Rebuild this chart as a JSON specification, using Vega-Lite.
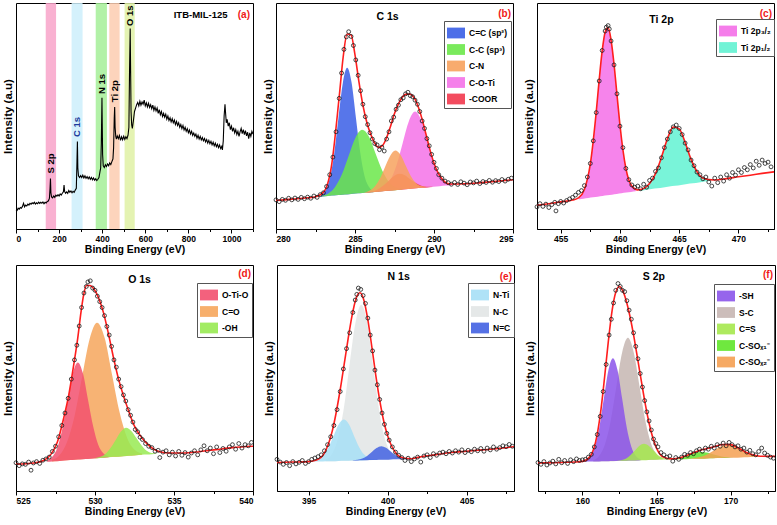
{
"$schema":"https://vega.github.io/schema/vega-lite/v6.json",
"background":"white",
"padding":{"left":1,"top":2,"right":0,"bottom":0},
"spacing":8,
"resolve":{"scale":{"color":"independent","fill":"independent"},"legend":{"color":"independent"}},
"config":{
 "view":{"stroke":"black","strokeWidth":1},
 "axisX":{"grid":false,"domainColor":"black","domainWidth":1,"tickColor":"black","tickWidth":1,"labelColor":"black","labelFont":"Liberation Sans","labelFontSize":8.5,"labelFontWeight":"bold","labelPadding":1,"labelOverlap":false,"titleColor":"black","titleFont":"Liberation Sans","titleFontSize":10.5,"titleFontWeight":"bold","titlePadding":2},
 "axisY":{"grid":false,"labels":false,"ticks":false,"domain":false,"titleColor":"black","titleFont":"Liberation Sans","titleFontSize":11.5,"titleFontWeight":"bold","titlePadding":3},
 "legend":{"title":null,"orient":"none","symbolType":"M-1,-0.6H1V0.6H-1Z","symbolSize":324,"symbolStrokeWidth":0,"symbolOpacity":0.9,"labelFont":"Liberation Sans","labelFontSize":8.5,"labelFontWeight":"bold","labelColor":"black","fillColor":"white","strokeColor":"#555555","padding":3,"rowPadding":1.5,"labelOffset":4},
 "text":{"font":"Liberation Sans"}
},
"datasets":{
"a_bands":[{"c":"S 2p","x":138,"x2":186},{"c":"C 1s","x":258,"x2":309},{"c":"N 1s","x":370,"x2":422},{"c":"Ti 2p","x":433,"x2":481},{"c":"O 1s","x":504,"x2":551}],
"a_line":[{"x":0,"y":0.085},{"x":5,"y":0.082},{"x":10,"y":0.092},{"x":15,"y":0.088},{"x":20,"y":0.095},{"x":25,"y":0.092},{"x":30,"y":0.1},{"x":35,"y":0.114},{"x":40,"y":0.098},{"x":45,"y":0.106},{"x":50,"y":0.102},{"x":55,"y":0.11},{"x":60,"y":0.106},{"x":65,"y":0.114},{"x":70,"y":0.11},{"x":75,"y":0.116},{"x":80,"y":0.112},{"x":85,"y":0.118},{"x":90,"y":0.11},{"x":95,"y":0.116},{"x":100,"y":0.112},{"x":105,"y":0.119},{"x":110,"y":0.113},{"x":115,"y":0.118},{"x":120,"y":0.114},{"x":125,"y":0.12},{"x":130,"y":0.112},{"x":135,"y":0.118},{"x":140,"y":0.115},{"x":145,"y":0.122},{"x":150,"y":0.124},{"x":155,"y":0.135},{"x":158,"y":0.18},{"x":160,"y":0.223},{"x":162,"y":0.16},{"x":165,"y":0.142},{"x":170,"y":0.138},{"x":175,"y":0.146},{"x":180,"y":0.14},{"x":185,"y":0.15},{"x":190,"y":0.145},{"x":195,"y":0.152},{"x":200,"y":0.146},{"x":205,"y":0.155},{"x":210,"y":0.15},{"x":215,"y":0.158},{"x":220,"y":0.165},{"x":223,"y":0.195},{"x":226,"y":0.165},{"x":230,"y":0.158},{"x":235,"y":0.164},{"x":240,"y":0.158},{"x":245,"y":0.17},{"x":250,"y":0.162},{"x":255,"y":0.168},{"x":260,"y":0.16},{"x":265,"y":0.167},{"x":270,"y":0.162},{"x":275,"y":0.172},{"x":280,"y":0.18},{"x":283,"y":0.3},{"x":285,"y":0.387},{"x":287,"y":0.27},{"x":290,"y":0.235},{"x":295,"y":0.228},{"x":300,"y":0.236},{"x":305,"y":0.228},{"x":310,"y":0.238},{"x":315,"y":0.226},{"x":320,"y":0.235},{"x":325,"y":0.224},{"x":330,"y":0.232},{"x":335,"y":0.222},{"x":340,"y":0.23},{"x":345,"y":0.22},{"x":350,"y":0.228},{"x":355,"y":0.218},{"x":360,"y":0.226},{"x":365,"y":0.216},{"x":370,"y":0.222},{"x":375,"y":0.214},{"x":380,"y":0.22},{"x":385,"y":0.228},{"x":390,"y":0.255},{"x":393,"y":0.27},{"x":396,"y":0.38},{"x":399,"y":0.581},{"x":402,"y":0.33},{"x":405,"y":0.28},{"x":410,"y":0.272},{"x":415,"y":0.284},{"x":420,"y":0.276},{"x":425,"y":0.288},{"x":430,"y":0.28},{"x":435,"y":0.292},{"x":440,"y":0.285},{"x":445,"y":0.298},{"x":450,"y":0.31},{"x":453,"y":0.36},{"x":456,"y":0.49},{"x":458,"y":0.54},{"x":460,"y":0.45},{"x":463,"y":0.41},{"x":466,"y":0.398},{"x":470,"y":0.412},{"x":475,"y":0.4},{"x":480,"y":0.414},{"x":485,"y":0.392},{"x":490,"y":0.408},{"x":495,"y":0.395},{"x":500,"y":0.41},{"x":505,"y":0.396},{"x":510,"y":0.408},{"x":515,"y":0.4},{"x":520,"y":0.415},{"x":524,"y":0.45},{"x":527,"y":0.7},{"x":530,"y":0.887},{"x":532,"y":0.7},{"x":534,"y":0.52},{"x":537,"y":0.46},{"x":540,"y":0.445},{"x":545,"y":0.48},{"x":550,"y":0.52},{"x":555,"y":0.535},{"x":560,"y":0.55},{"x":565,"y":0.56},{"x":570,"y":0.545},{"x":575,"y":0.565},{"x":580,"y":0.548},{"x":585,"y":0.562},{"x":590,"y":0.552},{"x":595,"y":0.57},{"x":600,"y":0.545},{"x":605,"y":0.558},{"x":610,"y":0.54},{"x":615,"y":0.556},{"x":620,"y":0.538},{"x":625,"y":0.55},{"x":630,"y":0.532},{"x":635,"y":0.548},{"x":640,"y":0.525},{"x":645,"y":0.54},{"x":650,"y":0.522},{"x":655,"y":0.535},{"x":660,"y":0.512},{"x":665,"y":0.528},{"x":670,"y":0.506},{"x":675,"y":0.52},{"x":680,"y":0.498},{"x":685,"y":0.512},{"x":690,"y":0.495},{"x":695,"y":0.508},{"x":700,"y":0.486},{"x":705,"y":0.5},{"x":710,"y":0.48},{"x":715,"y":0.492},{"x":720,"y":0.474},{"x":725,"y":0.488},{"x":730,"y":0.47},{"x":735,"y":0.482},{"x":740,"y":0.462},{"x":745,"y":0.476},{"x":750,"y":0.458},{"x":755,"y":0.47},{"x":760,"y":0.45},{"x":765,"y":0.462},{"x":770,"y":0.444},{"x":775,"y":0.458},{"x":780,"y":0.438},{"x":785,"y":0.45},{"x":790,"y":0.432},{"x":795,"y":0.444},{"x":800,"y":0.426},{"x":805,"y":0.438},{"x":810,"y":0.42},{"x":815,"y":0.432},{"x":820,"y":0.414},{"x":825,"y":0.425},{"x":830,"y":0.41},{"x":835,"y":0.42},{"x":840,"y":0.402},{"x":845,"y":0.415},{"x":850,"y":0.398},{"x":855,"y":0.41},{"x":860,"y":0.394},{"x":865,"y":0.405},{"x":870,"y":0.39},{"x":875,"y":0.4},{"x":880,"y":0.385},{"x":885,"y":0.396},{"x":890,"y":0.38},{"x":895,"y":0.392},{"x":900,"y":0.377},{"x":905,"y":0.388},{"x":910,"y":0.372},{"x":915,"y":0.384},{"x":920,"y":0.368},{"x":925,"y":0.38},{"x":930,"y":0.364},{"x":935,"y":0.375},{"x":940,"y":0.36},{"x":945,"y":0.372},{"x":950,"y":0.356},{"x":955,"y":0.365},{"x":958,"y":0.35},{"x":962,"y":0.39},{"x":966,"y":0.5},{"x":970,"y":0.552},{"x":973,"y":0.51},{"x":976,"y":0.47},{"x":980,"y":0.485},{"x":985,"y":0.455},{"x":990,"y":0.47},{"x":995,"y":0.44},{"x":1000,"y":0.455},{"x":1005,"y":0.432},{"x":1010,"y":0.448},{"x":1015,"y":0.425},{"x":1020,"y":0.44},{"x":1025,"y":0.418},{"x":1030,"y":0.432},{"x":1035,"y":0.41},{"x":1040,"y":0.43},{"x":1045,"y":0.445},{"x":1050,"y":0.422},{"x":1055,"y":0.44},{"x":1060,"y":0.418},{"x":1065,"y":0.435},{"x":1070,"y":0.412},{"x":1075,"y":0.428},{"x":1080,"y":0.4},{"x":1085,"y":0.425},{"x":1090,"y":0.41},{"x":1095,"y":0.432},{"x":1100,"y":0.42}],
"b_comp":[
{"c":"C-O-Ti","x":286.46,"y":0.169,"b":0.165},{"c":"C-O-Ti","x":286.85,"y":0.183,"b":0.168},{"c":"C-O-Ti","x":287.24,"y":0.216,"b":0.17},{"c":"C-O-Ti","x":287.63,"y":0.283,"b":0.173},{"c":"C-O-Ti","x":288.02,"y":0.381,"b":0.175},{"c":"C-O-Ti","x":288.41,"y":0.477,"b":0.177},{"c":"C-O-Ti","x":288.8,"y":0.52,"b":0.18},{"c":"C-O-Ti","x":289.19,"y":0.482,"b":0.182},{"c":"C-O-Ti","x":289.58,"y":0.39,"b":0.184},{"c":"C-O-Ti","x":289.97,"y":0.297,"b":0.187},{"c":"C-O-Ti","x":290.36,"y":0.235,"b":0.189},{"c":"C-O-Ti","x":290.75,"y":0.207,"b":0.192},{"c":"C-O-Ti","x":291.14,"y":0.198,"b":0.194},
{"c":"C=C (sp²)","x":282.85,"y":0.149,"b":0.143},{"c":"C=C (sp²)","x":283.13,"y":0.17,"b":0.145},{"c":"C=C (sp²)","x":283.4,"y":0.223,"b":0.147},{"c":"C=C (sp²)","x":283.68,"y":0.33,"b":0.148},{"c":"C=C (sp²)","x":283.95,"y":0.49,"b":0.15},{"c":"C=C (sp²)","x":284.23,"y":0.646,"b":0.152},{"c":"C=C (sp²)","x":284.5,"y":0.713,"b":0.153},{"c":"C=C (sp²)","x":284.78,"y":0.649,"b":0.155},{"c":"C=C (sp²)","x":285.05,"y":0.497,"b":0.157},{"c":"C=C (sp²)","x":285.33,"y":0.34,"b":0.158},{"c":"C=C (sp²)","x":285.6,"y":0.236,"b":0.16},{"c":"C=C (sp²)","x":285.88,"y":0.187,"b":0.162},{"c":"C=C (sp²)","x":286.15,"y":0.169,"b":0.163},
{"c":"C-C (sp³)","x":282.9,"y":0.147,"b":0.144},{"c":"C-C (sp³)","x":283.33,"y":0.158,"b":0.146},{"c":"C-C (sp³)","x":283.75,"y":0.187,"b":0.149},{"c":"C-C (sp³)","x":284.18,"y":0.243,"b":0.152},{"c":"C-C (sp³)","x":284.6,"y":0.324,"b":0.154},{"c":"C-C (sp³)","x":285.03,"y":0.404,"b":0.157},{"c":"C-C (sp³)","x":285.45,"y":0.439,"b":0.159},{"c":"C-C (sp³)","x":285.88,"y":0.409,"b":0.162},{"c":"C-C (sp³)","x":286.3,"y":0.334,"b":0.164},{"c":"C-C (sp³)","x":286.73,"y":0.258,"b":0.167},{"c":"C-C (sp³)","x":287.15,"y":0.208,"b":0.17},{"c":"C-C (sp³)","x":287.58,"y":0.184,"b":0.172},{"c":"C-C (sp³)","x":288.0,"y":0.178,"b":0.175},
{"c":"-COOR","x":285.7,"y":0.162,"b":0.161},{"c":"-COOR","x":286.05,"y":0.166,"b":0.163},{"c":"-COOR","x":286.4,"y":0.174,"b":0.165},{"c":"-COOR","x":286.75,"y":0.19,"b":0.167},{"c":"-COOR","x":287.1,"y":0.211,"b":0.169},{"c":"-COOR","x":287.45,"y":0.233,"b":0.171},{"c":"-COOR","x":287.8,"y":0.244,"b":0.174},{"c":"-COOR","x":288.15,"y":0.238,"b":0.176},{"c":"-COOR","x":288.5,"y":0.22,"b":0.178},{"c":"-COOR","x":288.85,"y":0.203,"b":0.18},{"c":"-COOR","x":289.2,"y":0.191,"b":0.182},{"c":"-COOR","x":289.55,"y":0.187,"b":0.184},{"c":"-COOR","x":289.9,"y":0.187,"b":0.186},
{"c":"C-N","x":285.6,"y":0.162,"b":0.16},{"c":"C-N","x":285.93,"y":0.17,"b":0.162},{"c":"C-N","x":286.25,"y":0.188,"b":0.164},{"c":"C-N","x":286.58,"y":0.223,"b":0.166},{"c":"C-N","x":286.9,"y":0.274,"b":0.168},{"c":"C-N","x":287.23,"y":0.324,"b":0.17},{"c":"C-N","x":287.55,"y":0.347,"b":0.172},{"c":"C-N","x":287.88,"y":0.328,"b":0.174},{"c":"C-N","x":288.2,"y":0.282,"b":0.176},{"c":"C-N","x":288.53,"y":0.235,"b":0.178},{"c":"C-N","x":288.85,"y":0.204,"b":0.18},{"c":"C-N","x":289.18,"y":0.19,"b":0.182},{"c":"C-N","x":289.5,"y":0.186,"b":0.184}],
"b_fit":[{"x":280,"y":0.126},{"x":281,"y":0.132},{"x":282,"y":0.138},{"x":282.5,"y":0.143},{"x":283,"y":0.162},{"x":283.5,"y":0.274},{"x":284,"y":0.585},{"x":284.25,"y":0.76},{"x":284.5,"y":0.863},{"x":284.75,"y":0.859},{"x":285,"y":0.77},{"x":285.25,"y":0.651},{"x":285.5,"y":0.548},{"x":285.75,"y":0.471},{"x":286,"y":0.418},{"x":286.25,"y":0.38},{"x":286.5,"y":0.361},{"x":286.75,"y":0.37},{"x":287,"y":0.404},{"x":287.25,"y":0.455},{"x":287.5,"y":0.511},{"x":287.75,"y":0.554},{"x":288,"y":0.584},{"x":288.25,"y":0.597},{"x":288.5,"y":0.596},{"x":288.75,"y":0.58},{"x":289,"y":0.541},{"x":289.25,"y":0.485},{"x":289.5,"y":0.417},{"x":289.75,"y":0.349},{"x":290,"y":0.291},{"x":290.5,"y":0.222},{"x":291,"y":0.199},{"x":292,"y":0.2},{"x":293,"y":0.205},{"x":294,"y":0.211},{"x":295,"y":0.218}],
"b_pts":[{"x":280.0,"y":0.129},{"x":280.2,"y":0.121},{"x":280.4,"y":0.131},{"x":280.6,"y":0.127},{"x":280.8,"y":0.136},{"x":281.0,"y":0.129},{"x":281.2,"y":0.137},{"x":281.4,"y":0.131},{"x":281.6,"y":0.14},{"x":281.8,"y":0.134},{"x":282.0,"y":0.141},{"x":282.2,"y":0.136},{"x":282.4,"y":0.146},{"x":282.6,"y":0.14},{"x":282.8,"y":0.152},{"x":283.0,"y":0.16},{"x":283.2,"y":0.188},{"x":283.4,"y":0.24},{"x":283.6,"y":0.318},{"x":283.8,"y":0.43},{"x":284.0,"y":0.578},{"x":284.15,"y":0.69},{"x":284.3,"y":0.795},{"x":284.45,"y":0.85},{"x":284.6,"y":0.873},{"x":284.75,"y":0.852},{"x":284.9,"y":0.812},{"x":285.05,"y":0.748},{"x":285.2,"y":0.68},{"x":285.35,"y":0.612},{"x":285.5,"y":0.552},{"x":285.65,"y":0.497},{"x":285.8,"y":0.462},{"x":285.95,"y":0.426},{"x":286.1,"y":0.398},{"x":286.25,"y":0.378},{"x":286.4,"y":0.372},{"x":286.55,"y":0.351},{"x":286.7,"y":0.362},{"x":286.85,"y":0.345},{"x":287.0,"y":0.398},{"x":287.15,"y":0.43},{"x":287.3,"y":0.478},{"x":287.45,"y":0.495},{"x":287.6,"y":0.53},{"x":287.75,"y":0.548},{"x":287.9,"y":0.572},{"x":288.05,"y":0.58},{"x":288.2,"y":0.598},{"x":288.35,"y":0.605},{"x":288.5,"y":0.59},{"x":288.65,"y":0.585},{"x":288.8,"y":0.57},{"x":288.95,"y":0.552},{"x":289.1,"y":0.52},{"x":289.25,"y":0.478},{"x":289.4,"y":0.445},{"x":289.55,"y":0.4},{"x":289.7,"y":0.368},{"x":289.85,"y":0.33},{"x":290.0,"y":0.295},{"x":290.15,"y":0.268},{"x":290.3,"y":0.24},{"x":290.5,"y":0.225},{"x":290.7,"y":0.212},{"x":290.9,"y":0.205},{"x":291.1,"y":0.198},{"x":291.3,"y":0.206},{"x":291.5,"y":0.197},{"x":291.7,"y":0.209},{"x":291.9,"y":0.203},{"x":292.1,"y":0.196},{"x":292.3,"y":0.208},{"x":292.5,"y":0.204},{"x":292.7,"y":0.212},{"x":292.9,"y":0.201},{"x":293.1,"y":0.21},{"x":293.3,"y":0.206},{"x":293.5,"y":0.215},{"x":293.7,"y":0.207},{"x":293.9,"y":0.214},{"x":294.1,"y":0.21},{"x":294.3,"y":0.219},{"x":294.5,"y":0.212},{"x":294.7,"y":0.22},{"x":294.9,"y":0.225}],
"c_comp":[
{"c":"Ti 2p₃/₂","x":456.53,"y":0.139,"b":0.131},{"c":"Ti 2p₃/₂","x":456.93,"y":0.167,"b":0.134},{"c":"Ti 2p₃/₂","x":457.33,"y":0.237,"b":0.137},{"c":"Ti 2p₃/₂","x":457.73,"y":0.381,"b":0.14},{"c":"Ti 2p₃/₂","x":458.13,"y":0.593,"b":0.143},{"c":"Ti 2p₃/₂","x":458.53,"y":0.801,"b":0.146},{"c":"Ti 2p₃/₂","x":458.93,"y":0.891,"b":0.149},{"c":"Ti 2p₃/₂","x":459.33,"y":0.807,"b":0.152},{"c":"Ti 2p₃/₂","x":459.73,"y":0.605,"b":0.155},{"c":"Ti 2p₃/₂","x":460.13,"y":0.399,"b":0.158},{"c":"Ti 2p₃/₂","x":460.53,"y":0.261,"b":0.161},{"c":"Ti 2p₃/₂","x":460.93,"y":0.197,"b":0.164},{"c":"Ti 2p₃/₂","x":461.33,"y":0.175,"b":0.167},
{"c":"Ti 2p₁/₂","x":461.66,"y":0.172,"b":0.169},{"c":"Ti 2p₁/₂","x":462.16,"y":0.185,"b":0.173},{"c":"Ti 2p₁/₂","x":462.66,"y":0.213,"b":0.177},{"c":"Ti 2p₁/₂","x":463.16,"y":0.266,"b":0.18},{"c":"Ti 2p₁/₂","x":463.66,"y":0.344,"b":0.184},{"c":"Ti 2p₁/₂","x":464.16,"y":0.421,"b":0.188},{"c":"Ti 2p₁/₂","x":464.66,"y":0.455,"b":0.191},{"c":"Ti 2p₁/₂","x":465.16,"y":0.428,"b":0.195},{"c":"Ti 2p₁/₂","x":465.66,"y":0.359,"b":0.199},{"c":"Ti 2p₁/₂","x":466.16,"y":0.288,"b":0.202},{"c":"Ti 2p₁/₂","x":466.66,"y":0.242,"b":0.206},{"c":"Ti 2p₁/₂","x":467.16,"y":0.222,"b":0.21},{"c":"Ti 2p₁/₂","x":467.66,"y":0.217,"b":0.214}],
"c_fit":[{"x":453,"y":0.105},{"x":454,"y":0.112},{"x":455,"y":0.12},{"x":456,"y":0.128},{"x":456.5,"y":0.138},{"x":457,"y":0.175},{"x":457.5,"y":0.288},{"x":458,"y":0.519},{"x":458.25,"y":0.661},{"x":458.5,"y":0.788},{"x":458.75,"y":0.871},{"x":459,"y":0.891},{"x":459.25,"y":0.836},{"x":459.5,"y":0.729},{"x":459.75,"y":0.594},{"x":460,"y":0.46},{"x":460.5,"y":0.268},{"x":461,"y":0.19},{"x":461.5,"y":0.173},{"x":462,"y":0.179},{"x":462.5,"y":0.201},{"x":463,"y":0.245},{"x":463.5,"y":0.317},{"x":464,"y":0.398},{"x":464.5,"y":0.451},{"x":465,"y":0.443},{"x":465.5,"y":0.383},{"x":466,"y":0.308},{"x":466.5,"y":0.254},{"x":467,"y":0.225},{"x":468,"y":0.217},{"x":469,"y":0.223},{"x":470,"y":0.231},{"x":471,"y":0.238},{"x":472,"y":0.246},{"x":473,"y":0.253}],
"c_pts":[{"x":453.0,"y":0.098},{"x":453.25,"y":0.112},{"x":453.5,"y":0.1},{"x":453.75,"y":0.11},{"x":454.0,"y":0.095},{"x":454.25,"y":0.108},{"x":454.5,"y":0.118},{"x":454.6,"y":0.08},{"x":454.8,"y":0.112},{"x":455.0,"y":0.122},{"x":455.25,"y":0.115},{"x":455.5,"y":0.126},{"x":455.75,"y":0.133},{"x":456.0,"y":0.14},{"x":456.25,"y":0.15},{"x":456.5,"y":0.162},{"x":456.75,"y":0.17},{"x":457.0,"y":0.192},{"x":457.25,"y":0.23},{"x":457.5,"y":0.29},{"x":457.75,"y":0.39},{"x":458.0,"y":0.515},{"x":458.25,"y":0.655},{"x":458.5,"y":0.79},{"x":458.75,"y":0.876},{"x":458.85,"y":0.893},{"x":459.0,"y":0.9},{"x":459.1,"y":0.885},{"x":459.25,"y":0.832},{"x":459.5,"y":0.726},{"x":459.75,"y":0.598},{"x":460.0,"y":0.455},{"x":460.25,"y":0.36},{"x":460.5,"y":0.268},{"x":460.75,"y":0.218},{"x":461.0,"y":0.195},{"x":461.25,"y":0.185},{"x":461.5,"y":0.19},{"x":461.75,"y":0.178},{"x":462.0,"y":0.198},{"x":462.25,"y":0.185},{"x":462.5,"y":0.215},{"x":462.75,"y":0.225},{"x":463.0,"y":0.255},{"x":463.25,"y":0.27},{"x":463.5,"y":0.315},{"x":463.75,"y":0.36},{"x":464.0,"y":0.398},{"x":464.25,"y":0.43},{"x":464.5,"y":0.452},{"x":464.75,"y":0.46},{"x":465.0,"y":0.445},{"x":465.25,"y":0.418},{"x":465.5,"y":0.38},{"x":465.75,"y":0.35},{"x":466.0,"y":0.305},{"x":466.25,"y":0.28},{"x":466.5,"y":0.252},{"x":466.75,"y":0.24},{"x":467.0,"y":0.222},{"x":467.25,"y":0.23},{"x":467.5,"y":0.208},{"x":467.75,"y":0.19},{"x":468.0,"y":0.225},{"x":468.25,"y":0.205},{"x":468.5,"y":0.23},{"x":468.75,"y":0.212},{"x":469.0,"y":0.24},{"x":469.25,"y":0.225},{"x":469.5,"y":0.25},{"x":469.75,"y":0.238},{"x":470.0,"y":0.262},{"x":470.25,"y":0.25},{"x":470.5,"y":0.272},{"x":470.75,"y":0.262},{"x":471.0,"y":0.285},{"x":471.25,"y":0.27},{"x":471.5,"y":0.3},{"x":471.75,"y":0.282},{"x":472.0,"y":0.305},{"x":472.25,"y":0.29},{"x":472.5,"y":0.296},{"x":472.75,"y":0.275}],
"d_comp":[
{"c":"C=O","x":527.28,"y":0.138,"b":0.131},{"c":"C=O","x":527.76,"y":0.159,"b":0.133},{"c":"C=O","x":528.23,"y":0.217,"b":0.136},{"c":"C=O","x":528.71,"y":0.333,"b":0.138},{"c":"C=O","x":529.18,"y":0.504,"b":0.14},{"c":"C=O","x":529.66,"y":0.673,"b":0.143},{"c":"C=O","x":530.13,"y":0.745,"b":0.145},{"c":"C=O","x":530.61,"y":0.678,"b":0.148},{"c":"C=O","x":531.08,"y":0.514,"b":0.15},{"c":"C=O","x":531.56,"y":0.347,"b":0.152},{"c":"C=O","x":532.03,"y":0.236,"b":0.155},{"c":"C=O","x":532.51,"y":0.183,"b":0.157},{"c":"C=O","x":532.98,"y":0.167,"b":0.16},
{"c":"O-Ti-O","x":526.96,"y":0.134,"b":0.129},{"c":"O-Ti-O","x":527.28,"y":0.15,"b":0.131},{"c":"O-Ti-O","x":527.61,"y":0.19,"b":0.132},{"c":"O-Ti-O","x":527.93,"y":0.274,"b":0.134},{"c":"O-Ti-O","x":528.26,"y":0.397,"b":0.136},{"c":"O-Ti-O","x":528.58,"y":0.516,"b":0.137},{"c":"O-Ti-O","x":528.91,"y":0.569,"b":0.139},{"c":"O-Ti-O","x":529.24,"y":0.52,"b":0.141},{"c":"O-Ti-O","x":529.56,"y":0.403,"b":0.142},{"c":"O-Ti-O","x":529.89,"y":0.284,"b":0.144},{"c":"O-Ti-O","x":530.21,"y":0.204,"b":0.146},{"c":"O-Ti-O","x":530.54,"y":0.166,"b":0.147},{"c":"O-Ti-O","x":530.86,"y":0.154,"b":0.149},
{"c":"-OH","x":530.02,"y":0.146,"b":0.145},{"c":"-OH","x":530.34,"y":0.151,"b":0.146},{"c":"-OH","x":530.67,"y":0.165,"b":0.148},{"c":"-OH","x":530.99,"y":0.191,"b":0.15},{"c":"-OH","x":531.32,"y":0.227,"b":0.151},{"c":"-OH","x":531.64,"y":0.263,"b":0.153},{"c":"-OH","x":531.97,"y":0.28,"b":0.155},{"c":"-OH","x":532.3,"y":0.266,"b":0.156},{"c":"-OH","x":532.62,"y":0.234,"b":0.158},{"c":"-OH","x":532.95,"y":0.201,"b":0.16},{"c":"-OH","x":533.27,"y":0.178,"b":0.161},{"c":"-OH","x":533.6,"y":0.168,"b":0.163},{"c":"-OH","x":533.92,"y":0.166,"b":0.165}],
"d_fit":[{"x":525.0,"y":0.119},{"x":526.15,"y":0.124},{"x":526.78,"y":0.136},{"x":527.2,"y":0.161},{"x":527.62,"y":0.217},{"x":528.03,"y":0.326},{"x":528.35,"y":0.429},{"x":528.66,"y":0.561},{"x":528.91,"y":0.678},{"x":529.12,"y":0.795},{"x":529.29,"y":0.871},{"x":529.46,"y":0.909},{"x":529.67,"y":0.909},{"x":529.92,"y":0.895},{"x":530.23,"y":0.854},{"x":530.54,"y":0.788},{"x":530.86,"y":0.693},{"x":531.17,"y":0.59},{"x":531.49,"y":0.495},{"x":531.8,"y":0.422},{"x":532.12,"y":0.356},{"x":532.43,"y":0.297},{"x":532.85,"y":0.246},{"x":533.26,"y":0.212},{"x":533.68,"y":0.187},{"x":534.1,"y":0.174},{"x":534.73,"y":0.168},{"x":535.56,"y":0.168},{"x":536.61,"y":0.174},{"x":537.66,"y":0.183},{"x":538.7,"y":0.192},{"x":540.0,"y":0.198}],
"d_pts":[{"x":525.0,"y":0.125},{"x":525.2,"y":0.112},{"x":525.4,"y":0.12},{"x":525.6,"y":0.118},{"x":525.8,"y":0.128},{"x":525.95,"y":0.092},{"x":526.1,"y":0.124},{"x":526.3,"y":0.13},{"x":526.5,"y":0.122},{"x":526.7,"y":0.136},{"x":526.9,"y":0.142},{"x":527.1,"y":0.15},{"x":527.3,"y":0.175},{"x":527.5,"y":0.198},{"x":527.7,"y":0.24},{"x":527.9,"y":0.29},{"x":528.1,"y":0.345},{"x":528.3,"y":0.41},{"x":528.5,"y":0.495},{"x":528.7,"y":0.58},{"x":528.85,"y":0.645},{"x":529.0,"y":0.73},{"x":529.15,"y":0.812},{"x":529.3,"y":0.876},{"x":529.45,"y":0.905},{"x":529.55,"y":0.925},{"x":529.7,"y":0.93},{"x":529.85,"y":0.898},{"x":530.0,"y":0.888},{"x":530.15,"y":0.862},{"x":530.3,"y":0.838},{"x":530.45,"y":0.812},{"x":530.6,"y":0.776},{"x":530.75,"y":0.728},{"x":530.9,"y":0.69},{"x":531.05,"y":0.64},{"x":531.2,"y":0.58},{"x":531.35,"y":0.548},{"x":531.5,"y":0.495},{"x":531.65,"y":0.462},{"x":531.8,"y":0.425},{"x":531.95,"y":0.398},{"x":532.1,"y":0.36},{"x":532.25,"y":0.335},{"x":532.4,"y":0.305},{"x":532.55,"y":0.272},{"x":532.7,"y":0.262},{"x":532.85,"y":0.238},{"x":533.0,"y":0.228},{"x":533.2,"y":0.21},{"x":533.4,"y":0.198},{"x":533.6,"y":0.192},{"x":533.8,"y":0.176},{"x":534.0,"y":0.18},{"x":534.1,"y":0.148},{"x":534.3,"y":0.172},{"x":534.5,"y":0.178},{"x":534.7,"y":0.16},{"x":534.9,"y":0.172},{"x":535.1,"y":0.155},{"x":535.3,"y":0.175},{"x":535.5,"y":0.158},{"x":535.7,"y":0.17},{"x":535.9,"y":0.15},{"x":536.1,"y":0.168},{"x":536.3,"y":0.178},{"x":536.5,"y":0.16},{"x":536.7,"y":0.182},{"x":536.9,"y":0.2},{"x":537.1,"y":0.178},{"x":537.3,"y":0.19},{"x":537.5,"y":0.165},{"x":537.7,"y":0.195},{"x":537.9,"y":0.17},{"x":538.1,"y":0.188},{"x":538.3,"y":0.176},{"x":538.5,"y":0.195},{"x":538.7,"y":0.205},{"x":538.9,"y":0.185},{"x":539.1,"y":0.21},{"x":539.3,"y":0.19},{"x":539.5,"y":0.205},{"x":539.7,"y":0.2},{"x":539.9,"y":0.215}],
"e_comp":[
{"c":"N-C","x":396.08,"y":0.14,"b":0.132},{"c":"N-C","x":396.46,"y":0.162,"b":0.132},{"c":"N-C","x":396.83,"y":0.226,"b":0.133},{"c":"N-C","x":397.21,"y":0.357,"b":0.134},{"c":"N-C","x":397.58,"y":0.551,"b":0.134},{"c":"N-C","x":397.96,"y":0.742,"b":0.135},{"c":"N-C","x":398.33,"y":0.824,"b":0.136},{"c":"N-C","x":398.71,"y":0.743,"b":0.136},{"c":"N-C","x":399.08,"y":0.554,"b":0.137},{"c":"N-C","x":399.46,"y":0.361,"b":0.138},{"c":"N-C","x":399.83,"y":0.231,"b":0.138},{"c":"N-C","x":400.21,"y":0.169,"b":0.139},{"c":"N-C","x":400.58,"y":0.148,"b":0.14},
{"c":"N-Ti","x":395.27,"y":0.132,"b":0.13},{"c":"N-Ti","x":395.6,"y":0.138,"b":0.13},{"c":"N-Ti","x":395.92,"y":0.156,"b":0.131},{"c":"N-Ti","x":396.25,"y":0.191,"b":0.132},{"c":"N-Ti","x":396.57,"y":0.242,"b":0.132},{"c":"N-Ti","x":396.9,"y":0.294,"b":0.133},{"c":"N-Ti","x":397.22,"y":0.316,"b":0.134},{"c":"N-Ti","x":397.55,"y":0.295,"b":0.134},{"c":"N-Ti","x":397.87,"y":0.245,"b":0.135},{"c":"N-Ti","x":398.2,"y":0.194,"b":0.135},{"c":"N-Ti","x":398.52,"y":0.161,"b":0.136},{"c":"N-Ti","x":398.85,"y":0.145,"b":0.137},{"c":"N-Ti","x":399.17,"y":0.139,"b":0.137},
{"c":"N=C","x":397.8,"y":0.136,"b":0.135},{"c":"N=C","x":398.1,"y":0.138,"b":0.135},{"c":"N=C","x":398.4,"y":0.144,"b":0.136},{"c":"N=C","x":398.7,"y":0.155,"b":0.136},{"c":"N=C","x":399.0,"y":0.173,"b":0.137},{"c":"N=C","x":399.3,"y":0.19,"b":0.137},{"c":"N=C","x":399.6,"y":0.198,"b":0.138},{"c":"N=C","x":399.9,"y":0.191,"b":0.138},{"c":"N=C","x":400.2,"y":0.175,"b":0.139},{"c":"N=C","x":400.5,"y":0.159,"b":0.14},{"c":"N=C","x":400.8,"y":0.148,"b":0.14},{"c":"N=C","x":401.1,"y":0.144,"b":0.141},{"c":"N=C","x":401.4,"y":0.142,"b":0.141}],
"e_fit":[{"x":393,"y":0.126},{"x":394,"y":0.128},{"x":395,"y":0.13},{"x":395.5,"y":0.137},{"x":396,"y":0.168},{"x":396.5,"y":0.266},{"x":397,"y":0.448},{"x":397.25,"y":0.56},{"x":397.5,"y":0.673},{"x":397.75,"y":0.776},{"x":398,"y":0.851},{"x":398.25,"y":0.877},{"x":398.5,"y":0.844},{"x":398.75,"y":0.757},{"x":399,"y":0.639},{"x":399.25,"y":0.513},{"x":399.5,"y":0.402},{"x":399.75,"y":0.311},{"x":400,"y":0.245},{"x":400.5,"y":0.17},{"x":401,"y":0.146},{"x":401.5,"y":0.143},{"x":402,"y":0.15},{"x":403,"y":0.16},{"x":404,"y":0.17},{"x":405,"y":0.176},{"x":406,"y":0.182},{"x":407,"y":0.188},{"x":408,"y":0.196}],
"e_pts":[{"x":393.0,"y":0.14},{"x":393.2,"y":0.128},{"x":393.4,"y":0.118},{"x":393.6,"y":0.126},{"x":393.8,"y":0.112},{"x":394.0,"y":0.13},{"x":394.2,"y":0.12},{"x":394.4,"y":0.127},{"x":394.6,"y":0.135},{"x":394.8,"y":0.122},{"x":395.0,"y":0.13},{"x":395.2,"y":0.14},{"x":395.4,"y":0.146},{"x":395.6,"y":0.152},{"x":395.8,"y":0.16},{"x":396.0,"y":0.178},{"x":396.2,"y":0.205},{"x":396.4,"y":0.24},{"x":396.6,"y":0.29},{"x":396.8,"y":0.36},{"x":397.0,"y":0.44},{"x":397.2,"y":0.54},{"x":397.4,"y":0.63},{"x":397.6,"y":0.7},{"x":397.8,"y":0.79},{"x":397.95,"y":0.845},{"x":398.05,"y":0.87},{"x":398.15,"y":0.898},{"x":398.3,"y":0.892},{"x":398.45,"y":0.865},{"x":398.6,"y":0.83},{"x":398.75,"y":0.765},{"x":398.9,"y":0.69},{"x":399.05,"y":0.62},{"x":399.2,"y":0.535},{"x":399.35,"y":0.47},{"x":399.5,"y":0.405},{"x":399.65,"y":0.345},{"x":399.8,"y":0.295},{"x":399.95,"y":0.255},{"x":400.1,"y":0.225},{"x":400.3,"y":0.195},{"x":400.5,"y":0.172},{"x":400.7,"y":0.158},{"x":400.9,"y":0.148},{"x":401.1,"y":0.135},{"x":401.3,"y":0.145},{"x":401.5,"y":0.13},{"x":401.7,"y":0.142},{"x":401.9,"y":0.15},{"x":402.1,"y":0.128},{"x":402.3,"y":0.155},{"x":402.5,"y":0.16},{"x":402.7,"y":0.148},{"x":402.9,"y":0.165},{"x":403.1,"y":0.158},{"x":403.3,"y":0.168},{"x":403.5,"y":0.172},{"x":403.7,"y":0.165},{"x":403.9,"y":0.175},{"x":404.1,"y":0.168},{"x":404.3,"y":0.178},{"x":404.5,"y":0.172},{"x":404.7,"y":0.182},{"x":404.9,"y":0.17},{"x":405.1,"y":0.18},{"x":405.3,"y":0.174},{"x":405.5,"y":0.185},{"x":405.7,"y":0.178},{"x":405.9,"y":0.188},{"x":406.1,"y":0.176},{"x":406.3,"y":0.19},{"x":406.5,"y":0.182},{"x":406.7,"y":0.195},{"x":406.9,"y":0.185},{"x":407.1,"y":0.192},{"x":407.3,"y":0.2},{"x":407.5,"y":0.196},{"x":407.7,"y":0.206},{"x":407.9,"y":0.198}],
"f_comp":[
{"c":"S-C","x":160.73,"y":0.136,"b":0.13},{"c":"S-C","x":161.12,"y":0.155,"b":0.131},{"c":"S-C","x":161.51,"y":0.205,"b":0.132},{"c":"S-C","x":161.9,"y":0.308,"b":0.132},{"c":"S-C","x":162.29,"y":0.462,"b":0.133},{"c":"S-C","x":162.68,"y":0.613,"b":0.134},{"c":"S-C","x":163.07,"y":0.678,"b":0.135},{"c":"S-C","x":163.46,"y":0.614,"b":0.135},{"c":"S-C","x":163.85,"y":0.465,"b":0.136},{"c":"S-C","x":164.24,"y":0.313,"b":0.137},{"c":"S-C","x":164.63,"y":0.21,"b":0.137},{"c":"S-C","x":165.02,"y":0.162,"b":0.138},{"c":"S-C","x":165.41,"y":0.145,"b":0.139},
{"c":"-SH","x":160.2,"y":0.134,"b":0.129},{"c":"-SH","x":160.51,"y":0.15,"b":0.13},{"c":"-SH","x":160.82,"y":0.191,"b":0.13},{"c":"-SH","x":161.13,"y":0.278,"b":0.131},{"c":"-SH","x":161.44,"y":0.407,"b":0.132},{"c":"-SH","x":161.75,"y":0.533,"b":0.132},{"c":"-SH","x":162.06,"y":0.587,"b":0.133},{"c":"-SH","x":162.37,"y":0.534,"b":0.133},{"c":"-SH","x":162.68,"y":0.409,"b":0.134},{"c":"-SH","x":162.99,"y":0.281,"b":0.134},{"c":"-SH","x":163.3,"y":0.196,"b":0.135},{"c":"-SH","x":163.61,"y":0.155,"b":0.135},{"c":"-SH","x":163.92,"y":0.141,"b":0.136},
{"c":"C=S","x":162.35,"y":0.134,"b":0.133},{"c":"C=S","x":162.65,"y":0.137,"b":0.134},{"c":"C=S","x":162.95,"y":0.144,"b":0.134},{"c":"C=S","x":163.25,"y":0.159,"b":0.135},{"c":"C=S","x":163.55,"y":0.179,"b":0.135},{"c":"C=S","x":163.85,"y":0.2,"b":0.136},{"c":"C=S","x":164.15,"y":0.209,"b":0.136},{"c":"C=S","x":164.45,"y":0.201,"b":0.137},{"c":"C=S","x":164.75,"y":0.182,"b":0.138},{"c":"C=S","x":165.05,"y":0.162,"b":0.138},{"c":"C=S","x":165.35,"y":0.149,"b":0.139},{"c":"C=S","x":165.65,"y":0.142,"b":0.139},{"c":"C=S","x":165.95,"y":0.141,"b":0.14},
{"c":"C-SOₓ₁⁻","x":165.6,"y":0.139,"b":0.139},{"c":"C-SOₓ₁⁻","x":166.0,"y":0.141,"b":0.14},{"c":"C-SOₓ₁⁻","x":166.4,"y":0.145,"b":0.141},{"c":"C-SOₓ₁⁻","x":166.8,"y":0.151,"b":0.141},{"c":"C-SOₓ₁⁻","x":167.2,"y":0.16,"b":0.142},{"c":"C-SOₓ₁⁻","x":167.6,"y":0.169,"b":0.143},{"c":"C-SOₓ₁⁻","x":168.0,"y":0.173,"b":0.143},{"c":"C-SOₓ₁⁻","x":168.4,"y":0.17,"b":0.144},{"c":"C-SOₓ₁⁻","x":168.8,"y":0.163,"b":0.145},{"c":"C-SOₓ₁⁻","x":169.2,"y":0.156,"b":0.146},{"c":"C-SOₓ₁⁻","x":169.6,"y":0.15,"b":0.146},{"c":"C-SOₓ₁⁻","x":170.0,"y":0.148,"b":0.147},{"c":"C-SOₓ₁⁻","x":170.4,"y":0.148,"b":0.148},
{"c":"C-SOₓ₂⁻","x":167.1,"y":0.143,"b":0.142},{"c":"C-SOₓ₂⁻","x":167.55,"y":0.146,"b":0.143},{"c":"C-SOₓ₂⁻","x":168.0,"y":0.151,"b":0.143},{"c":"C-SOₓ₂⁻","x":168.45,"y":0.163,"b":0.144},{"c":"C-SOₓ₂⁻","x":168.9,"y":0.18,"b":0.145},{"c":"C-SOₓ₂⁻","x":169.35,"y":0.197,"b":0.146},{"c":"C-SOₓ₂⁻","x":169.8,"y":0.205,"b":0.147},{"c":"C-SOₓ₂⁻","x":170.25,"y":0.198,"b":0.147},{"c":"C-SOₓ₂⁻","x":170.7,"y":0.183,"b":0.148},{"c":"C-SOₓ₂⁻","x":171.15,"y":0.168,"b":0.149},{"c":"C-SOₓ₂⁻","x":171.6,"y":0.158,"b":0.15},{"c":"C-SOₓ₂⁻","x":172.05,"y":0.154,"b":0.151},{"c":"C-SOₓ₂⁻","x":172.5,"y":0.153,"b":0.152}],
"f_fit":[{"x":157,"y":0.124},{"x":158,"y":0.125},{"x":159,"y":0.127},{"x":159.5,"y":0.128},{"x":160,"y":0.131},{"x":160.5,"y":0.151},{"x":161,"y":0.252},{"x":161.25,"y":0.36},{"x":161.5,"y":0.506},{"x":161.75,"y":0.663},{"x":162,"y":0.797},{"x":162.25,"y":0.879},{"x":162.5,"y":0.905},{"x":162.75,"y":0.882},{"x":163,"y":0.831},{"x":163.25,"y":0.76},{"x":163.5,"y":0.673},{"x":163.75,"y":0.576},{"x":164,"y":0.477},{"x":164.25,"y":0.382},{"x":164.5,"y":0.3},{"x":165,"y":0.19},{"x":165.5,"y":0.149},{"x":166,"y":0.142},{"x":166.5,"y":0.146},{"x":167,"y":0.156},{"x":167.5,"y":0.169},{"x":168,"y":0.181},{"x":168.5,"y":0.189},{"x":169,"y":0.198},{"x":169.5,"y":0.206},{"x":170,"y":0.205},{"x":170.5,"y":0.191},{"x":171,"y":0.173},{"x":171.5,"y":0.16},{"x":172,"y":0.154},{"x":173,"y":0.153}],
"f_pts":[{"x":157.0,"y":0.126},{"x":157.2,"y":0.118},{"x":157.4,"y":0.13},{"x":157.6,"y":0.115},{"x":157.8,"y":0.124},{"x":158.0,"y":0.132},{"x":158.2,"y":0.12},{"x":158.4,"y":0.14},{"x":158.6,"y":0.125},{"x":158.8,"y":0.135},{"x":159.0,"y":0.122},{"x":159.2,"y":0.138},{"x":159.4,"y":0.13},{"x":159.6,"y":0.142},{"x":159.8,"y":0.135},{"x":160.0,"y":0.138},{"x":160.2,"y":0.14},{"x":160.4,"y":0.15},{"x":160.6,"y":0.162},{"x":160.8,"y":0.195},{"x":161.0,"y":0.25},{"x":161.2,"y":0.33},{"x":161.4,"y":0.44},{"x":161.6,"y":0.56},{"x":161.8,"y":0.69},{"x":161.95,"y":0.76},{"x":162.1,"y":0.832},{"x":162.25,"y":0.888},{"x":162.4,"y":0.918},{"x":162.55,"y":0.905},{"x":162.7,"y":0.888},{"x":162.85,"y":0.882},{"x":163.0,"y":0.842},{"x":163.15,"y":0.8},{"x":163.3,"y":0.76},{"x":163.45,"y":0.7},{"x":163.6,"y":0.64},{"x":163.75,"y":0.585},{"x":163.9,"y":0.52},{"x":164.05,"y":0.46},{"x":164.2,"y":0.4},{"x":164.35,"y":0.35},{"x":164.5,"y":0.31},{"x":164.65,"y":0.27},{"x":164.8,"y":0.23},{"x":164.95,"y":0.21},{"x":165.1,"y":0.195},{"x":165.3,"y":0.17},{"x":165.5,"y":0.16},{"x":165.7,"y":0.15},{"x":165.9,"y":0.155},{"x":166.1,"y":0.132},{"x":166.3,"y":0.148},{"x":166.5,"y":0.14},{"x":166.7,"y":0.15},{"x":166.9,"y":0.162},{"x":167.1,"y":0.158},{"x":167.3,"y":0.17},{"x":167.5,"y":0.165},{"x":167.7,"y":0.178},{"x":167.9,"y":0.185},{"x":168.1,"y":0.176},{"x":168.3,"y":0.19},{"x":168.5,"y":0.185},{"x":168.7,"y":0.198},{"x":168.9,"y":0.19},{"x":169.1,"y":0.205},{"x":169.3,"y":0.198},{"x":169.5,"y":0.212},{"x":169.7,"y":0.2},{"x":169.9,"y":0.215},{"x":170.1,"y":0.205},{"x":170.3,"y":0.195},{"x":170.5,"y":0.2},{"x":170.7,"y":0.185},{"x":170.9,"y":0.19},{"x":171.1,"y":0.172},{"x":171.3,"y":0.18},{"x":171.5,"y":0.165},{"x":171.7,"y":0.16},{"x":171.9,"y":0.175},{"x":172.1,"y":0.19},{"x":172.3,"y":0.168},{"x":172.5,"y":0.158},{"x":172.7,"y":0.15},{"x":172.9,"y":0.145}]
},
"vconcat":[
{"spacing":5,"resolve":{"scale":{"color":"independent","fill":"independent"},"legend":{"color":"independent"}},"hconcat":[
{"width":237,"height":226,"layer":[
 {"data":{"name":"a_bands"},"mark":{"type":"rect","opacity":0.85},"encoding":{"x":{"field":"x","type":"quantitative","scale":{"domain":[0,1100],"nice":false,"zero":false},"axis":{"title":"Binding Energy (eV)","tickCount":30,"labelOverlap":false,"values":[0,100,200,300,400,500,600,700,800,900,1000,1100],"labelExpr":"datum.value % 200 === 0 ? format(datum.value, 'd') : ''","tickSize":{"condition":{"test":"datum.value % 200 === 0","value":4},"value":2.5}}},"x2":{"field":"x2"},"fill":{"field":"c","type":"nominal","scale":{"domain":["S 2p","C 1s","N 1s","Ti 2p","O 1s"],"range":["#f8a3c9","#cceffb","#a4ef98","#fdcdb0","#dff1a4"]},"legend":null}}},
 {"data":{"name":"a_line"},"mark":{"type":"line","color":"black","strokeWidth":1.1},"encoding":{"x":{"field":"x","type":"quantitative"},"y":{"field":"y","type":"quantitative","scale":{"domain":[0,1],"nice":false},"axis":{"title":"Intensity (a.u)"}}}},
 {"data":{"values":[{"x":161,"y":0.246,"t":"S 2p"},{"x":399,"y":0.597,"t":"N 1s"},{"x":461,"y":0.561,"t":"Ti 2p"},{"x":531,"y":0.898,"t":"O 1s"}]},"mark":{"type":"text","angle":270,"align":"left","baseline":"middle","fontSize":9.5,"fontWeight":"bold","color":"black"},"encoding":{"x":{"field":"x","type":"quantitative"},"y":{"field":"y","type":"quantitative"},"text":{"field":"t"}}},
 {"data":{"values":[{"x":285,"y":0.407,"t":"C 1s"}]},"mark":{"type":"text","angle":270,"align":"left","baseline":"middle","fontSize":9.5,"fontWeight":"bold","color":"#1d3b9c"},"encoding":{"x":{"field":"x","type":"quantitative"},"y":{"field":"y","type":"quantitative"},"text":{"field":"t"}}},
 {"data":{"values":[{"x":857,"y":0.947,"t":"ITB-MIL-125"}]},"mark":{"type":"text","fontSize":9.5,"fontWeight":"bold","color":"black"},"encoding":{"x":{"field":"x","type":"quantitative"},"y":{"field":"y","type":"quantitative"},"text":{"field":"t"}}},
 {"data":{"values":[{"x":1100,"y":0.947,"t":"(a)"}]},"mark":{"type":"text","fontSize":10,"fontWeight":"bold","color":"#f01818","align":"right","dx":-3},"encoding":{"x":{"field":"x","type":"quantitative"},"y":{"field":"y","type":"quantitative"},"text":{"field":"t"}}}
]},
{"width":237,"height":226,"layer":[
 {"data":{"name":"b_comp"},"mark":{"type":"area","interpolate":"monotone","opacity":0.85},"encoding":{"x":{"field":"x","type":"quantitative","scale":{"domain":[280,295],"nice":false,"zero":false},"axis":{"title":"Binding Energy (eV)","tickCount":30,"labelOverlap":false,"values":[280,282.5,285,287.5,290,292.5,295],"labelExpr":"datum.value % 5 === 0 ? format(datum.value, 'd') : ''","tickSize":{"condition":{"test":"datum.value % 5 === 0","value":4},"value":2.5}}},"y":{"field":"y","type":"quantitative","stack":null,"scale":{"domain":[0,1],"nice":false},"axis":{"title":"Intensity (a.u)"}},"y2":{"field":"b"},"color":{"field":"c","type":"nominal","scale":{"domain":["C=C (sp²)","C-C (sp³)","C-N","C-O-Ti","-COOR"],"range":["#3a5ee6","#6be84a","#f7a25e","#f472e8","#f2384e"]},"legend":{"orient":"none","legendX":168,"legendY":18}}}},
 {"data":{"name":"b_fit"},"mark":{"type":"line","color":"#ff1e1e","strokeWidth":1.6,"interpolate":"monotone"},"encoding":{"x":{"field":"x","type":"quantitative"},"y":{"field":"y","type":"quantitative"}}},
 {"data":{"name":"b_pts"},"mark":{"type":"point","shape":"circle","filled":false,"color":"#1a1a1a","size":15,"strokeWidth":0.8,"opacity":1},"encoding":{"x":{"field":"x","type":"quantitative"},"y":{"field":"y","type":"quantitative"}}},
 {"data":{"values":[{"x":287.06,"y":0.937,"t":"C 1s"}]},"mark":{"type":"text","fontSize":10.5,"fontWeight":"bold","color":"black"},"encoding":{"x":{"field":"x","type":"quantitative"},"y":{"field":"y","type":"quantitative"},"text":{"field":"t"}}},
 {"data":{"values":[{"x":295,"y":0.95,"t":"(b)"}]},"mark":{"type":"text","fontSize":10,"fontWeight":"bold","color":"#f01818","align":"right","dx":-2},"encoding":{"x":{"field":"x","type":"quantitative"},"y":{"field":"y","type":"quantitative"},"text":{"field":"t"}}}
]},
{"width":237,"height":226,"layer":[
 {"data":{"name":"c_comp"},"mark":{"type":"area","interpolate":"monotone","opacity":0.85},"encoding":{"x":{"field":"x","type":"quantitative","scale":{"domain":[453,473],"nice":false,"zero":false},"axis":{"title":"Binding Energy (eV)","tickCount":30,"labelOverlap":false,"values":[455,457.5,460,462.5,465,467.5,470,472.5],"labelExpr":"datum.value % 5 === 0 ? format(datum.value, 'd') : ''","tickSize":{"condition":{"test":"datum.value % 5 === 0","value":4},"value":2.5}}},"y":{"field":"y","type":"quantitative","stack":null,"scale":{"domain":[0,1],"nice":false},"axis":{"title":"Intensity (a.u)"}},"y2":{"field":"b"},"color":{"field":"c","type":"nominal","scale":{"domain":["Ti 2p₃/₂","Ti 2p₁/₂"],"range":["#f46fe8","#62f2d2"]},"legend":{"orient":"none","legendX":179,"legendY":16}}}},
 {"data":{"name":"c_fit"},"mark":{"type":"line","color":"#ff1e1e","strokeWidth":1.6,"interpolate":"monotone"},"encoding":{"x":{"field":"x","type":"quantitative"},"y":{"field":"y","type":"quantitative"}}},
 {"data":{"name":"c_pts"},"mark":{"type":"point","shape":"circle","filled":false,"color":"#1a1a1a","size":15,"strokeWidth":0.8,"opacity":1},"encoding":{"x":{"field":"x","type":"quantitative"},"y":{"field":"y","type":"quantitative"}}},
 {"data":{"values":[{"x":463.5,"y":0.924,"t":"Ti 2p"}]},"mark":{"type":"text","fontSize":10.5,"fontWeight":"bold","color":"black"},"encoding":{"x":{"field":"x","type":"quantitative"},"y":{"field":"y","type":"quantitative"},"text":{"field":"t"}}},
 {"data":{"values":[{"x":473,"y":0.95,"t":"(c)"}]},"mark":{"type":"text","fontSize":10,"fontWeight":"bold","color":"#f01818","align":"right","dx":-2},"encoding":{"x":{"field":"x","type":"quantitative"},"y":{"field":"y","type":"quantitative"},"text":{"field":"t"}}}
]}
]},
{"spacing":5,"resolve":{"scale":{"color":"independent"},"legend":{"color":"independent"}},"hconcat":[
{"width":237,"height":226,"layer":[
 {"data":{"name":"d_comp"},"mark":{"type":"area","interpolate":"monotone","opacity":0.85},"encoding":{"x":{"field":"x","type":"quantitative","scale":{"domain":[525,540],"nice":false,"zero":false},"axis":{"title":"Binding Energy (eV)","tickCount":30,"labelOverlap":false,"values":[525,527.5,530,532.5,535,537.5,540],"labelExpr":"datum.value % 5 === 0 ? format(datum.value, 'd') : ''","tickSize":{"condition":{"test":"datum.value % 5 === 0","value":4},"value":2.5}}},"y":{"field":"y","type":"quantitative","stack":null,"scale":{"domain":[0,1],"nice":false},"axis":{"title":"Intensity (a.u)"}},"y2":{"field":"b"},"color":{"field":"c","type":"nominal","scale":{"domain":["O-Ti-O","C=O","-OH"],"range":["#f2506f","#f6a65c","#98ea52"]},"legend":{"orient":"none","legendX":181,"legendY":18}}}},
 {"data":{"name":"d_fit"},"mark":{"type":"line","color":"#ff1e1e","strokeWidth":1.6,"interpolate":"monotone"},"encoding":{"x":{"field":"x","type":"quantitative"},"y":{"field":"y","type":"quantitative"}}},
 {"data":{"name":"d_pts"},"mark":{"type":"point","shape":"circle","filled":false,"color":"#1a1a1a","size":15,"strokeWidth":0.8,"opacity":1},"encoding":{"x":{"field":"x","type":"quantitative"},"y":{"field":"y","type":"quantitative"}}},
 {"data":{"values":[{"x":532.82,"y":0.934,"t":"O 1s"}]},"mark":{"type":"text","fontSize":10.5,"fontWeight":"bold","color":"black"},"encoding":{"x":{"field":"x","type":"quantitative"},"y":{"field":"y","type":"quantitative"},"text":{"field":"t"}}},
 {"data":{"values":[{"x":540,"y":0.959,"t":"(d)"}]},"mark":{"type":"text","fontSize":10,"fontWeight":"bold","color":"#f01818","align":"right","dx":-2},"encoding":{"x":{"field":"x","type":"quantitative"},"y":{"field":"y","type":"quantitative"},"text":{"field":"t"}}}
]},
{"width":237,"height":226,"layer":[
 {"data":{"name":"e_comp"},"mark":{"type":"area","interpolate":"monotone","opacity":0.85},"encoding":{"x":{"field":"x","type":"quantitative","scale":{"domain":[393,408],"nice":false,"zero":false},"axis":{"title":"Binding Energy (eV)","tickCount":30,"labelOverlap":false,"values":[395,397.5,400,402.5,405,407.5],"labelExpr":"datum.value % 5 === 0 ? format(datum.value, 'd') : ''","tickSize":{"condition":{"test":"datum.value % 5 === 0","value":4},"value":2.5}}},"y":{"field":"y","type":"quantitative","stack":null,"scale":{"domain":[0,1],"nice":false},"axis":{"title":"Intensity (a.u)"}},"y2":{"field":"b"},"color":{"field":"c","type":"nominal","scale":{"domain":["N-Ti","N-C","N=C"],"range":["#a6dff6","#e2e5e5","#4262e2"]},"legend":{"orient":"none","legendX":191,"legendY":18}}}},
 {"data":{"name":"e_fit"},"mark":{"type":"line","color":"#ff1e1e","strokeWidth":1.6,"interpolate":"monotone"},"encoding":{"x":{"field":"x","type":"quantitative"},"y":{"field":"y","type":"quantitative"}}},
 {"data":{"name":"e_pts"},"mark":{"type":"point","shape":"circle","filled":false,"color":"#1a1a1a","size":15,"strokeWidth":0.8,"opacity":1},"encoding":{"x":{"field":"x","type":"quantitative"},"y":{"field":"y","type":"quantitative"}}},
 {"data":{"values":[{"x":400.7,"y":0.946,"t":"N 1s"}]},"mark":{"type":"text","fontSize":10.5,"fontWeight":"bold","color":"black"},"encoding":{"x":{"field":"x","type":"quantitative"},"y":{"field":"y","type":"quantitative"},"text":{"field":"t"}}},
 {"data":{"values":[{"x":408,"y":0.949,"t":"(e)"}]},"mark":{"type":"text","fontSize":10,"fontWeight":"bold","color":"#f01818","align":"right","dx":-2},"encoding":{"x":{"field":"x","type":"quantitative"},"y":{"field":"y","type":"quantitative"},"text":{"field":"t"}}}
]},
{"width":237,"height":226,"layer":[
 {"data":{"name":"f_comp"},"mark":{"type":"area","interpolate":"monotone","opacity":0.85},"encoding":{"x":{"field":"x","type":"quantitative","scale":{"domain":[157,173],"nice":false,"zero":false},"axis":{"title":"Binding Energy (eV)","tickCount":30,"labelOverlap":false,"values":[157.5,160,162.5,165,167.5,170,172.5],"labelExpr":"datum.value % 5 === 0 ? format(datum.value, 'd') : ''","tickSize":{"condition":{"test":"datum.value % 5 === 0","value":4},"value":2.5}}},"y":{"field":"y","type":"quantitative","stack":null,"scale":{"domain":[0,1],"nice":false},"axis":{"title":"Intensity (a.u)"}},"y2":{"field":"b"},"color":{"field":"c","type":"nominal","scale":{"domain":["-SH","S-C","C=S","C-SOₓ₁⁻","C-SOₓ₂⁻"],"range":["#8b54ea","#c6b6b2","#a5e84e","#5fe52a","#f5a052"]},"legend":{"orient":"none","legendX":176,"legendY":19}}}},
 {"data":{"name":"f_fit"},"mark":{"type":"line","color":"#ff1e1e","strokeWidth":1.6,"interpolate":"monotone"},"encoding":{"x":{"field":"x","type":"quantitative"},"y":{"field":"y","type":"quantitative"}}},
 {"data":{"name":"f_pts"},"mark":{"type":"point","shape":"circle","filled":false,"color":"#1a1a1a","size":15,"strokeWidth":0.8,"opacity":1},"encoding":{"x":{"field":"x","type":"quantitative"},"y":{"field":"y","type":"quantitative"}}},
 {"data":{"values":[{"x":164.82,"y":0.946,"t":"S 2p"}]},"mark":{"type":"text","fontSize":10.5,"fontWeight":"bold","color":"black"},"encoding":{"x":{"field":"x","type":"quantitative"},"y":{"field":"y","type":"quantitative"},"text":{"field":"t"}}},
 {"data":{"values":[{"x":173,"y":0.956,"t":"(f)"}]},"mark":{"type":"text","fontSize":10,"fontWeight":"bold","color":"#f01818","align":"right","dx":-2},"encoding":{"x":{"field":"x","type":"quantitative"},"y":{"field":"y","type":"quantitative"},"text":{"field":"t"}}}
]}
]}
]
}
